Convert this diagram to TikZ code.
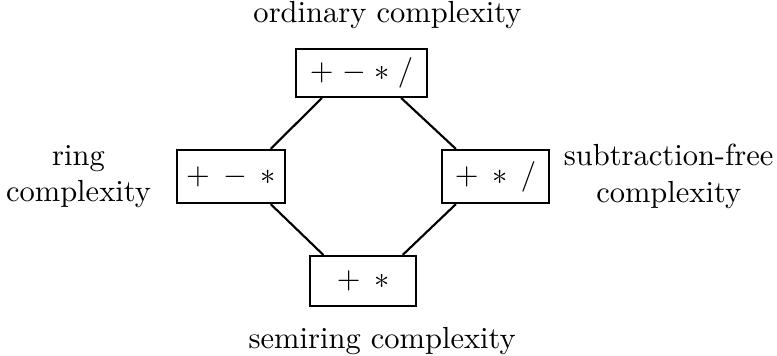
\documentclass[tikz,border=0pt]{standalone}
\usepackage{amsmath}
\usetikzlibrary{positioning}

\begin{document}
\begin{tikzpicture}[node distance=6pt,
  opbox/.style={draw,line width=.7pt,inner sep=0pt},
  edge/.style={line width=.7pt},
  lbl/.style={align=center,inner sep=0pt}]
\useasboundingbox (0,0) rectangle (8.953,4.091);
% the four operation sets
\node[opbox,minimum width=43pt,minimum height=15.7pt] (ord) at (4.166,3.250) {${+}\;{-}\;{*}\;{/}$};
\node[opbox,minimum width=35.4pt,minimum height=17.4pt] (ring) at (2.662,2.057) {${+}\;\,{-}\;\,{*}$};
\node[opbox,minimum width=35.1pt,minimum height=17.4pt] (subfree) at (5.710,2.057) {${+}\;\,{*}\;\,{/}$};
\node[opbox,minimum width=34.8pt,minimum height=16.4pt] (semi) at (4.183,0.853) {${+}\;\,{*}$};
% names of the complexities
\node[lbl,above=6pt of ord,xshift=8.5pt] (ordlbl) {ordinary complexity};
\node[lbl,left=8pt of ring] (ringlbl) {ring\\complexity};
\node[lbl,right=4.3pt of subfree] (subfreelbl) {subtraction-free\\complexity};
\node[lbl,below=6.5pt of semi,xshift=6.3pt] (semilbl) {semiring complexity};
\draw[edge] ([xshift=-13pt]ord.south)--([xshift=13pt]ring.north);\draw[edge] ([xshift=13pt]ord.south)--([xshift=-13pt]subfree.north);
\draw[edge] ([xshift=13pt]ring.south)--([xshift=-13pt]semi.north);\draw[edge] ([xshift=-13pt]subfree.south)--([xshift=13pt]semi.north);
\end{tikzpicture}
\end{document}
